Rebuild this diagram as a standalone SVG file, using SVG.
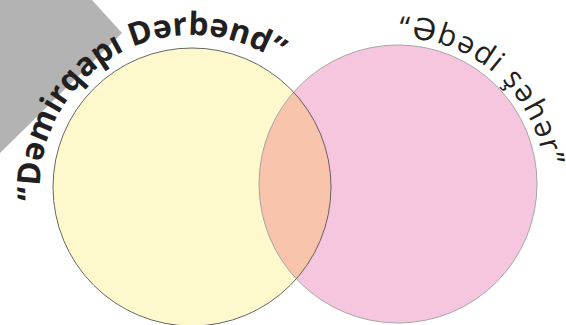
<svg xmlns="http://www.w3.org/2000/svg" xmlns:xlink="http://www.w3.org/1999/xlink" width="566" height="325" viewBox="0 0 566 325">
  <style>
    .lbl { fill: #231f20; font-family: "Open Sans", "DejaVu Sans", sans-serif; }
    .bold { font-weight: 700; font-size: 32px; }
    .reg { font-weight: 400; font-size: 30px; letter-spacing: 1.5px; }
  </style>
  <defs>
    <path id="arcL" d="M 40.6 200.2 A 152 152 0 0 1 272.5 58.1" fill="none"/>
    <path id="arcR" d="M 399 38 A 146 146 0 0 1 545 184" fill="none"/>
    <clipPath id="clipL"><circle cx="192" cy="187" r="139"/></clipPath>
  </defs>
  <rect width="566" height="325" fill="#ffffff"/>
  <polygon id="band" points="0,0 92,0 122,33 0,153" fill="#b3b3b3"/>
  <g id="set-left">
    <circle cx="192" cy="187" r="139" fill="#fef9cc"/>
  </g>
  <g id="set-right">
    <circle cx="398" cy="184" r="139" fill="#f5c6dd"/>
  </g>
  <g id="intersection">
    <circle cx="398" cy="184" r="139" fill="#f8c4ac" clip-path="url(#clipL)"/>
  </g>
  <g id="outlines" fill="none">
    <circle cx="398" cy="184" r="139" stroke="#a6a6a6" stroke-width="1"/>
    <circle cx="192" cy="187" r="139" stroke="#555555" stroke-width="0.9"/>
  </g>
  <g id="label-left">
    <text class="lbl bold"><textPath xlink:href="#arcL" href="#arcL">“Dəmirqapı Dərbənd”</textPath></text>
  </g>
  <g id="label-right">
    <text class="lbl reg"><textPath xlink:href="#arcR" href="#arcR">“Əbədi şəhər”</textPath></text>
  </g>
</svg>
